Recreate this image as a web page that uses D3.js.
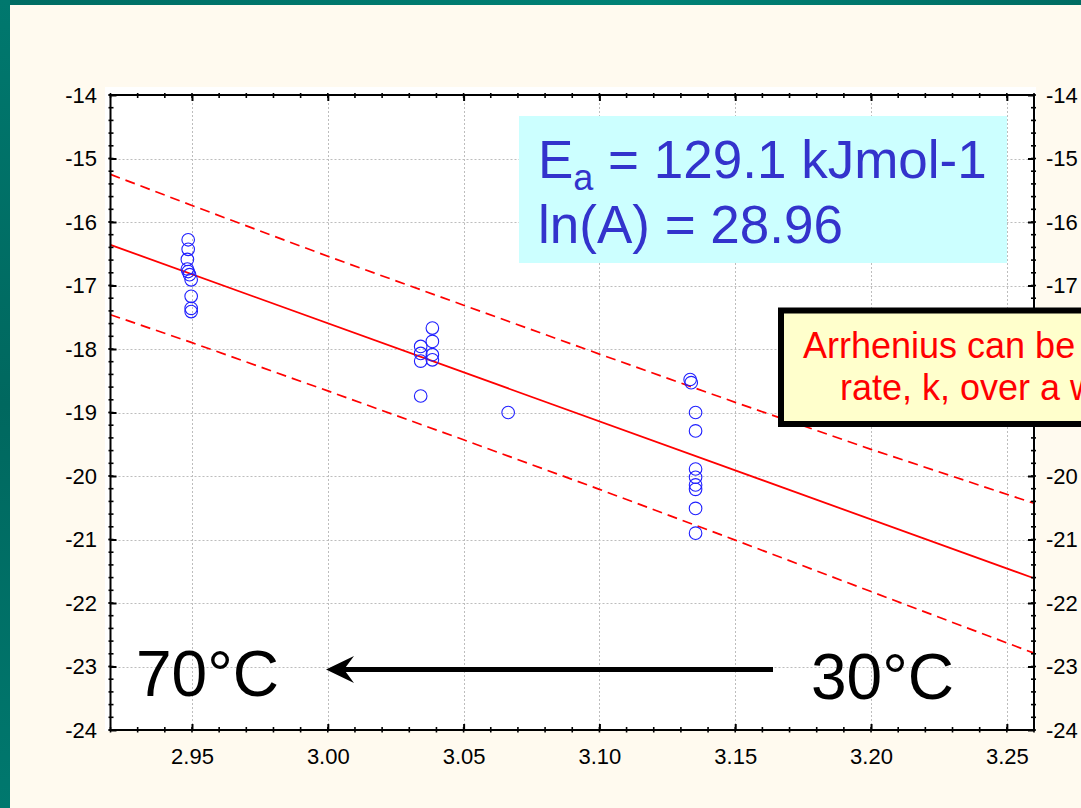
<!DOCTYPE html>
<html>
<head>
<meta charset="utf-8">
<script src="https://cdn.jsdelivr.net/npm/d3@7"></script>
<style>
  html, body { margin: 0; padding: 0; background: #FFFAEF; overflow: hidden; }
  svg { display: block; }
  text { font-family: "Liberation Sans", Arial, sans-serif; }
</style>
</head>
<body>
<svg id="chart" width="1081" height="808"></svg>
<script>
// ---------------- data ----------------
// x = 1000/T (K^-1), y = ln(k)
const pointX = [
  2.9486, 2.9486, 2.9483, 2.9483, 2.9486, 2.9491, 2.9497, 2.9497, 2.9497, 2.9497,
  3.0385, 3.0385, 3.0342, 3.0342, 3.0342, 3.0385, 3.0385, 3.0342, 3.0664,
  3.1334, 3.1338, 3.1354, 3.1354, 3.1354, 3.1354, 3.1354, 3.1354, 3.1354, 3.1354
];
const pointY = [
  -16.28, -16.43, -16.59, -16.74, -16.78, -16.83, -16.91, -17.17, -17.36, -17.41,
  -17.67, -17.88, -17.96, -18.07, -18.19, -18.09, -18.17, -18.74, -19.00,
  -18.48, -18.53, -19.00, -19.29, -19.89, -20.02, -20.14, -20.21, -20.51, -20.90
];
// fitted line end points
const fitX = [2.92, 3.26];
const fitY = [-16.36, -21.61];
// prediction band
const bandX = [2.92, 2.95, 3.00, 3.05, 3.10, 3.15, 3.20, 3.26];
const bandUpper = [-15.25, -15.74, -16.54, -17.31, -18.08, -18.84, -19.58, -20.43];
const bandLower = [-17.46, -17.90, -18.66, -19.43, -20.21, -21.01, -21.82, -22.79];
// ticks
const xTicks = [2.95, 3.00, 3.05, 3.10, 3.15, 3.20, 3.25];
const xTickLabels = ["2.95", "3.00", "3.05", "3.10", "3.15", "3.20", "3.25"];
const yTicks = [-14, -15, -16, -17, -18, -19, -20, -21, -22, -23, -24];
const yTickLabels = ["-14", "-15", "-16", "-17", "-18", "-19", "-20", "-21", "-22", "-23", "-24"];
// right-axis labels hidden behind the note box in the reference
const yRightHidden = [-18, -19];
const xMinor = d3.range(2.92, 3.2601, 0.01);
const yMinor = d3.range(-24, -13.99, 0.2);
// annotation texts
const eaLine = ["E", "a", " = 129.1 kJmol-1"];
const lnALine = "ln(A) = 28.96";
const noteLines = ["Arrhenius can be", "rate, k, over a w"];
const hotLabel = "70°C";
const coldLabel = "30°C";

// ---------------- layout ----------------
const L = 110.5, R = 1034, T = 95, B = 730;
const svg = d3.select("#chart");

const x = d3.scaleLinear().domain([2.92, 3.26]).range([L, R]);
const y = d3.scaleLinear().domain([-24, -14]).range([B, T]);

// slide frame
const defs = svg.append("defs");
const gl = defs.append("linearGradient").attr("id", "teal").attr("x1", 0).attr("y1", 0).attr("x2", 0).attr("y2", 1);
gl.append("stop").attr("offset", "0%").attr("stop-color", "#00786E");
gl.append("stop").attr("offset", "50%").attr("stop-color", "#00685F");
gl.append("stop").attr("offset", "100%").attr("stop-color", "#00786E");
const gt = defs.append("linearGradient").attr("id", "tealTop").attr("x1", 0).attr("y1", 0).attr("x2", 1).attr("y2", 0);
gt.append("stop").attr("offset", "0%").attr("stop-color", "#006C63");
gt.append("stop").attr("offset", "60%").attr("stop-color", "#008276");
gt.append("stop").attr("offset", "100%").attr("stop-color", "#006C63");
svg.append("rect").attr("x", 0).attr("y", 0).attr("width", 1081).attr("height", 808).attr("fill", "#FFFAEF");
svg.append("rect").attr("x", 0).attr("y", 0).attr("width", 1081).attr("height", 5).attr("fill", "url(#tealTop)");
svg.append("rect").attr("x", 0).attr("y", 0).attr("width", 10).attr("height", 808).attr("fill", "url(#teal)");

// white plot background
svg.append("rect").attr("x", 105).attr("y", 87).attr("width", 931).attr("height", B - 87 + 1).attr("fill", "#FFFFFF");

// grid
const grid = svg.append("g").attr("stroke", "#BDBDBD").attr("stroke-width", 1).attr("stroke-dasharray", "2,2");
grid.selectAll("line.gx").data(xTicks).join("line").attr("class", "gx")
  .attr("x1", d => Math.round(x(d)) + 0.5).attr("x2", d => Math.round(x(d)) + 0.5)
  .attr("y1", T).attr("y2", B);
grid.selectAll("line.gy").data(yTicks.slice(1, -1)).join("line").attr("class", "gy")
  .attr("y1", d => Math.round(y(d)) + 0.5).attr("y2", d => Math.round(y(d)) + 0.5)
  .attr("x1", L).attr("x2", R);

// prediction band (dashed) and fit line
const lineGen = d3.line().x(d => x(d[0])).y(d => y(d[1]));
svg.append("path").datum(bandX.map((v, i) => [v, bandUpper[i]]))
  .attr("d", lineGen).attr("fill", "none").attr("stroke", "#FF0000").attr("stroke-width", 1.7).attr("stroke-dasharray", "10,6");
svg.append("path").datum(bandX.map((v, i) => [v, bandLower[i]]))
  .attr("d", lineGen).attr("fill", "none").attr("stroke", "#FF0000").attr("stroke-width", 1.7).attr("stroke-dasharray", "10,6");
svg.append("path").datum(fitX.map((v, i) => [v, fitY[i]]))
  .attr("d", lineGen).attr("fill", "none").attr("stroke", "#FF0000").attr("stroke-width", 1.8);

// points
svg.append("g").selectAll("circle").data(pointX.map((v, i) => [v, pointY[i]])).join("circle")
  .attr("cx", d => x(d[0])).attr("cy", d => y(d[1])).attr("r", 6.3)
  .attr("fill", "none").attr("stroke", "#1F1FFF").attr("stroke-width", 1.1);

// axes (labels + major ticks, inward)
const fmtX = d => xTickLabels[xTicks.indexOf(d)];
const fmtY = d => yTickLabels[yTicks.indexOf(d)];
const fmtYRight = d => yRightHidden.includes(d) ? "" : yTickLabels[yTicks.indexOf(d)];
function styleAxis(g) {
  g.select(".domain").remove();
  g.selectAll(".tick line").attr("stroke", "#000").attr("stroke-width", 2);
  g.selectAll(".tick text").attr("fill", "#000").style("font-size", "22px")
    .style("font-family", "'Liberation Sans', Arial, sans-serif");
}
svg.append("g").attr("transform", `translate(0,${B})`)
  .call(d3.axisBottom(x).tickValues(xTicks).tickFormat(fmtX).tickSizeInner(-6).tickSizeOuter(0).tickPadding(18.5))
  .call(styleAxis);
svg.append("g").attr("transform", `translate(0,${T})`)
  .call(d3.axisTop(x).tickValues(xTicks).tickFormat("").tickSizeInner(-6).tickSizeOuter(0))
  .call(styleAxis);
svg.append("g").attr("transform", `translate(${L},0)`)
  .call(d3.axisLeft(y).tickValues(yTicks).tickFormat(fmtY).tickSizeInner(-6).tickSizeOuter(0).tickPadding(13.5))
  .call(styleAxis);
svg.append("g").attr("transform", `translate(${R},0)`)
  .call(d3.axisRight(y).tickValues(yTicks).tickFormat(fmtYRight).tickSizeInner(-6).tickSizeOuter(0).tickPadding(12))
  .call(styleAxis);

// minor ticks
const minor = svg.append("g").attr("stroke", "#000").attr("stroke-width", 1.6);
minor.selectAll("line.mb").data(xMinor).join("line").attr("class", "mb")
  .attr("x1", d => x(d)).attr("x2", d => x(d)).attr("y1", B - 3).attr("y2", B + 2.5);
minor.selectAll("line.mt").data(xMinor).join("line").attr("class", "mt")
  .attr("x1", d => x(d)).attr("x2", d => x(d)).attr("y1", T - 2).attr("y2", T + 3);
minor.selectAll("line.ml").data(yMinor).join("line").attr("class", "ml")
  .attr("y1", d => y(d)).attr("y2", d => y(d)).attr("x1", L - 2).attr("x2", L + 3);
minor.selectAll("line.mr").data(yMinor).join("line").attr("class", "mr")
  .attr("y1", d => y(d)).attr("y2", d => y(d)).attr("x1", R - 3).attr("x2", R + 2);
minor.selectAll("line.ol").data(yTicks).join("line").attr("class", "ol")
  .attr("y1", d => y(d)).attr("y2", d => y(d)).attr("x1", L - 2).attr("x2", L);

// frame
svg.append("rect").attr("x", L).attr("y", T).attr("width", R - L).attr("height", B - T)
  .attr("fill", "none").attr("stroke", "#000").attr("stroke-width", 2);

// Ea / ln(A) box
svg.append("rect").attr("x", 519).attr("y", 116).attr("width", 488).attr("height", 147).attr("fill", "#CCFFFF");
const ea = svg.append("text").attr("x", 538).attr("y", 178).attr("fill", "#3333CC").style("font-size", "53px");
ea.append("tspan").text(eaLine[0]);
ea.append("tspan").attr("dy", 12).style("font-size", "36px").text(eaLine[1]);
ea.append("tspan").attr("dy", -12).text(eaLine[2]);
svg.append("text").attr("x", 538).attr("y", 242.5).attr("fill", "#3333CC").style("font-size", "53px").text(lnALine);

// temperature arrow
svg.append("line").attr("x1", 773).attr("x2", 340).attr("y1", 669.5).attr("y2", 669.5)
  .attr("stroke", "#000").attr("stroke-width", 5);
svg.append("path").attr("d", "M326,669.5 L354,656 L344,669.5 L354,683 Z").attr("fill", "#000");
svg.append("text").attr("x", 136).attr("y", 696).attr("fill", "#000").style("font-size", "64px").text(hotLabel);
svg.append("text").attr("x", 811).attr("y", 699).attr("fill", "#000").style("font-size", "64px").text(coldLabel);

// Arrhenius note box (extends beyond the right edge, as in the reference)
svg.append("rect").attr("x", 781).attr("y", 310.5).attr("width", 330).attr("height", 113.5)
  .attr("fill", "#FFFFCC").attr("stroke", "#000").attr("stroke-width", 6);
svg.append("text").attr("x", 803).attr("y", 358).attr("fill", "#FF0000").style("font-size", "36px").text(noteLines[0]);
svg.append("text").attr("x", 840).attr("y", 400).attr("fill", "#FF0000").style("font-size", "36px").text(noteLines[1]);
</script>
</body>
</html>
